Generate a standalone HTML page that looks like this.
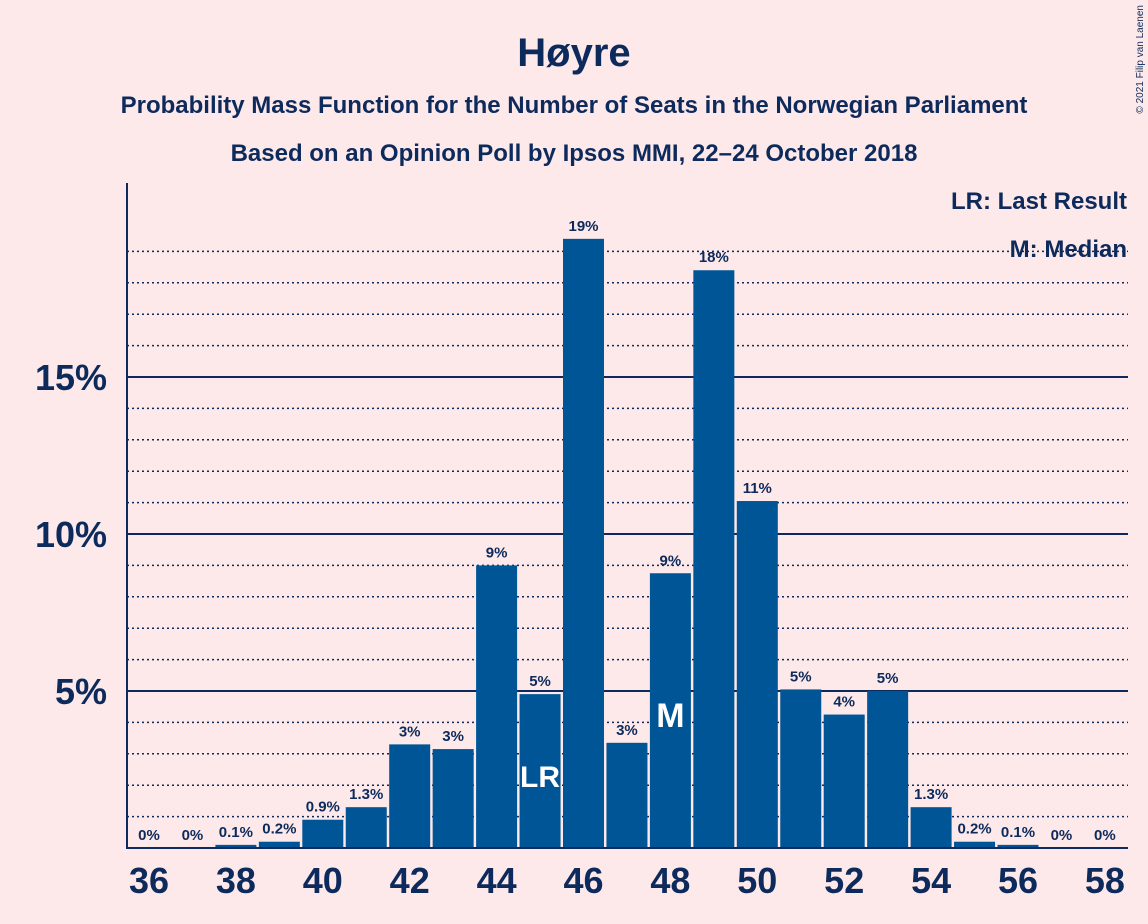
<!DOCTYPE html>
<html><head><meta charset="utf-8"><style>
html,body{margin:0;padding:0;background:#fde9e9;}
svg{display:block;font-family:"Liberation Sans",sans-serif;}
</style></head><body>
<svg id="chart" width="1148" height="924">
<rect width="1148" height="924" fill="#fde9e9"/>
<text x="574" y="66" text-anchor="middle" font-size="40" font-weight="bold" fill="#0d2a5c">Høyre</text>
<text x="574" y="113" text-anchor="middle" font-size="24" font-weight="bold" fill="#0d2a5c">Probability Mass Function for the Number of Seats in the Norwegian Parliament</text>
<text x="574" y="161" text-anchor="middle" font-size="24" font-weight="bold" fill="#0d2a5c">Based on an Opinion Poll by Ipsos MMI, 22–24 October 2018</text>
<text x="1143" y="5" transform="rotate(-90 1143 5)" text-anchor="end" font-size="10" fill="#0d2a5c">© 2021 Filip van Laenen</text>
<g id="grid"></g>
<g id="bars"></g>
<g id="xt"></g>
<line x1="127" y1="183" x2="127" y2="849" stroke="#0d2a5c" stroke-width="2"/>
<line x1="126" y1="848" x2="1128" y2="848" stroke="#0d2a5c" stroke-width="2"/>
<text x="1127" y="209" text-anchor="end" font-size="24" font-weight="bold" fill="#0d2a5c">LR: Last Result</text>
<text x="1127" y="257" text-anchor="end" font-size="24" font-weight="bold" fill="#0d2a5c">M: Median</text>
</svg>
<script>
const seats=[36,37,38,39,40,41,42,43,44,45,46,47,48,49,50,51,52,53,54,55,56,57,58];
const probs=[0,0,0.1,0.2,0.9,1.3,3.3,3.15,9.0,4.9,19.4,3.35,8.75,18.4,11.05,5.05,4.25,5.0,1.3,0.2,0.1,0,0];
const labels=["0%","0%","0.1%","0.2%","0.9%","1.3%","3%","3%","9%","5%","19%","3%","9%","18%","11%","5%","4%","5%","1.3%","0.2%","0.1%","0%","0%"];
const yTicks=[5,10,15];
const yTickLabels=["5%","10%","15%"];
const lastResult=45, median=48;
const NS="http://www.w3.org/2000/svg";
const y=v=>848-v*31.4;
const x=s=>149+(s-36)*43.45;
function mk(tag,attrs,parent,txt){const e=document.createElementNS(NS,tag);for(const k in attrs)e.setAttribute(k,attrs[k]);if(txt!==undefined)e.textContent=txt;parent.appendChild(e);return e;}
const grid=document.getElementById('grid'),bars=document.getElementById('bars'),xt=document.getElementById('xt');
for(let v=1;v<=19;v++){if(v%5===0)continue;const l=mk('line',{x1:127,x2:1128,y1:y(v),y2:y(v),stroke:'#0d2a5c','stroke-width':1.5,'stroke-dasharray':'2,3'},grid);

}
yTicks.forEach((v,i)=>{const l=mk('line',{x1:127,x2:1128,y1:y(v),y2:y(v),stroke:'#0d2a5c','stroke-width':2},grid);


const t=mk('text',{x:107,y:y(v)+13,'text-anchor':'end','font-size':36,'font-weight':'bold',fill:'#0d2a5c'},grid,yTickLabels[i]);

});
seats.forEach((s,i)=>{const cx=x(s),p=probs[i];
if(p>0){const r=mk('rect',{x:cx-20.5,y:y(p),width:41,height:848-y(p),fill:'#005596'},bars);

}
const t=mk('text',{x:cx,y:y(p)-8,'text-anchor':'middle','font-size':15,'font-weight':'bold',fill:'#0d2a5c'},bars,labels[i]);


if(s===lastResult){const m=mk('text',{x:cx,y:787,'text-anchor':'middle','font-size':30,'font-weight':'bold',fill:'#fff'},bars,'LR');

}
if(s===median){const m=mk('text',{x:cx,y:727,'text-anchor':'middle','font-size':34,'font-weight':'bold',fill:'#fff'},bars,'M');

}
if(s%2===0){const l=mk('text',{x:cx,y:893,'text-anchor':'middle','font-size':36,'font-weight':'bold',fill:'#0d2a5c'},xt,String(s));

}});
</script>
</body></html>
